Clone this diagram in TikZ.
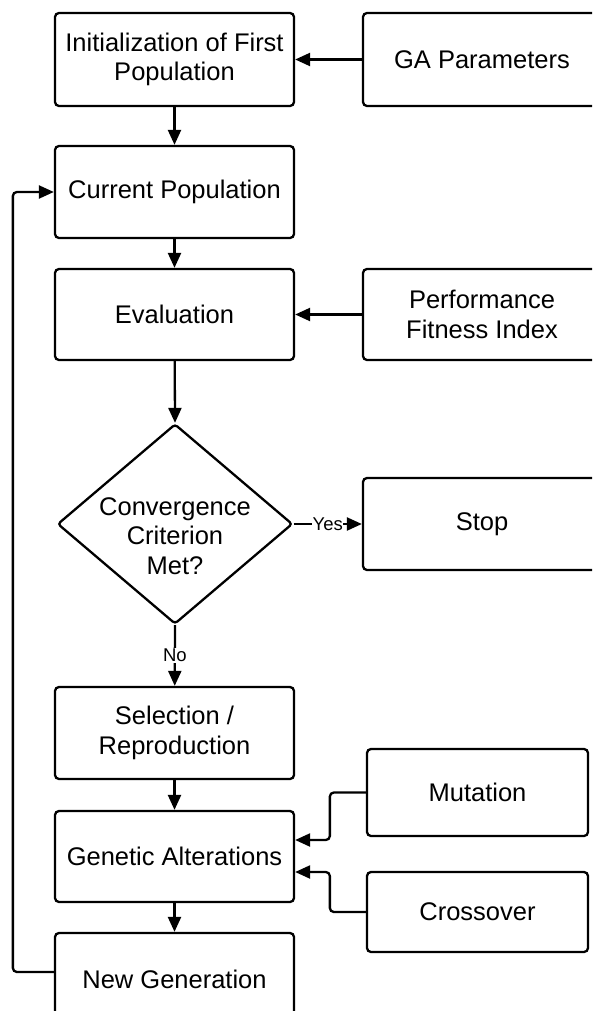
\documentclass[tikz,border=0pt]{standalone}
\usepackage{fontspec}
\setmainfont{Liberation Sans}
\usetikzlibrary{arrows.meta,shapes.geometric,calc}
\begin{document}
\begin{tikzpicture}[x=1pt,y=-1pt,
  box/.style={draw, line width=2.3pt, rounded corners=4pt, rectangle, align=center,
    font=\fontsize{25.5}{29.5}\selectfont, inner sep=0pt},
  lbox/.style={box, minimum width=239pt, minimum height=92pt},
  rbox/.style={box, minimum width=238pt, minimum height=92pt},
  arr/.style={line width=2.3pt, -{Triangle[length=15pt,width=13pt]}},
  lab/.style={fill=white, inner sep=0.6pt, font=\fontsize{18.5}{21}\selectfont}
]
\useasboundingbox (0,0) rectangle (592,1011);
\clip (0,0) rectangle (592,1011);

\node[lbox, minimum height=93pt] (init) at (174.5,59.5) {Initialization of First\\Population};
\node[lbox] (cur) at (174.5,192) {Current Population};
\node[lbox, minimum height=91pt] (eval) at (174.5,314.5) {Evaluation};
\node[draw, line width=2.3pt, rounded corners=3pt, diamond, minimum width=235pt, minimum height=200pt, inner sep=0pt] (dia) at (175,524) {};
\node[align=center, font=\fontsize{25.5}{29.5}\selectfont] (diatext) at (175,536) {Convergence\\Criterion\\Met?};
\node[lbox] (sel) at (174.5,733) {Selection /\\Reproduction};
\node[lbox, minimum height=91pt] (gen) at (174.5,856.5) {Genetic Alterations};
\node[lbox] (newg) at (174.5,979) {New Generation};

\node[rbox, minimum height=93pt] (ga) at (482,59.5) {GA Parameters};
\node[rbox, minimum height=91pt] (perf) at (482,314.5) {Performance\\Fitness Index};
\node[rbox] (stop) at (482,524) {Stop};
\node[box, minimum width=221pt, minimum height=87pt] (mut) at (477.5,792.5) {Mutation};
\node[box, minimum width=221pt, minimum height=80pt] (cross) at (477.5,912) {Crossover};

\draw[arr] (init) -- (cur);
\draw[arr] (cur) -- (eval);
\draw[arr] (eval) -- (dia.north);
\draw[arr] (dia.south) -- node[lab] {No} (sel);
\draw[arr] (sel) -- (gen);
\draw[arr] (gen) -- (newg);
\draw[arr] (ga) -- (init);
\draw[arr] (perf) -- (eval);
\draw[arr] (dia.east) -- node[lab] {Yes} (stop.west |- dia.east);
\draw[arr, rounded corners=4pt] (mut.west) -- ++(-36,0) |- ([yshift=16.5pt]gen.east);
\draw[arr, rounded corners=4pt] (cross.west) -- ++(-36,0) |- ([yshift=-15.5pt]gen.east);
\draw[arr, rounded corners=4pt] ([yshift=7pt]newg.west) -- ++(-41,0) |- (cur.west);
\end{tikzpicture}
\end{document}
